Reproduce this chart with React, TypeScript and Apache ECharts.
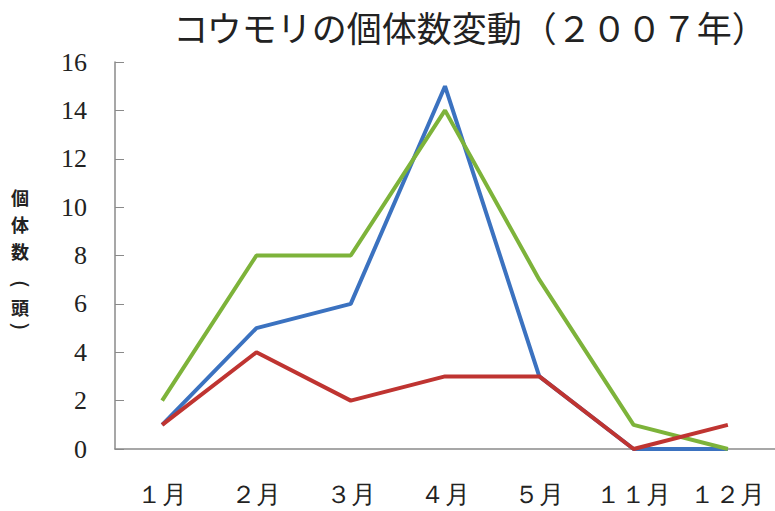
import React, { useEffect, useRef } from "react";
import * as echarts from "echarts";

const categories = ["１月", "２月", "３月", "４月", "５月", "１１月", "１２月"];
const blueValues = [1, 5, 6, 15, 3, 0, 0];
const greenValues = [2, 8, 8, 14, 7, 1, 0];
const redValues = [1, 4, 2, 3, 3, 0, 1];
const titleText = "コウモリの個体数変動（２００７年）";
const yNameChars = ["個", "体", "数", "(", "頭", ")"];

export default function App() {
  const ref = useRef<HTMLDivElement>(null);
  useEffect(() => {
    if (!ref.current) return;
    const chart = echarts.init(ref.current, undefined, { renderer: "svg" });
    const serif = "'Liberation Serif', 'DejaVu Serif', serif";
    const cjk = "'Noto Sans CJK JP', sans-serif";
    const mkLine = (name: string, data: number[], color: string) => ({
      name,
      type: "line",
      data,
      symbol: "none",
      lineStyle: { color, width: 4 },
      itemStyle: { color },
    });
    const charY = [197, 224, 251, 284, 307, 326];
    const yNameGraphics = yNameChars.map((ch, i) => {
      const isParen = ch === "(" || ch === ")";
      return {
        type: "text",
        x: 20,
        y: charY[i],
        rotation: isParen ? -Math.PI / 2 : 0,
        style: {
          text: ch,
          fontFamily: isParen ? "'DejaVu Sans', sans-serif" : cjk,
          fontSize: isParen ? 22 : 18,
          fontWeight: isParen ? "normal" : "bold",
          fill: "#222",
          align: "center",
          verticalAlign: "middle",
        },
      };
    });
    chart.setOption({
      animation: false,
      backgroundColor: "#ffffff",
      title: {
        text: titleText,
        left: 465,
        textAlign: "center",
        top: 4,
        textStyle: { fontFamily: cjk, fontSize: 35, fontWeight: "normal", color: "#222" },
      },
      graphic: yNameGraphics,
      grid: { left: 115, right: 0, top: 62, bottom: 62 },
      xAxis: {
        type: "category",
        data: categories,
        boundaryGap: true,
        axisLine: { lineStyle: { color: "#8a8a8a", width: 1.5 } },
        axisTick: { inside: true, length: 8, lineStyle: { color: "#8a8a8a" } },
        axisLabel: {
          interval: 0,
          fontFamily: serif,
          fontSize: 25,
          color: "#222",
          margin: 33,
        },
      },
      yAxis: {
        type: "value",
        min: 0,
        max: 16,
        interval: 2,
        splitLine: { show: false },
        axisLine: { show: true, lineStyle: { color: "#8a8a8a", width: 1.5 } },
        axisTick: { show: true, inside: true, length: 9, lineStyle: { color: "#8a8a8a" } },
        axisLabel: {
          fontFamily: serif,
          fontSize: 26,
          color: "#222",
          margin: 28,
        },
      },
      series: [
        mkLine("青", blueValues, "#3b72c0"),
        mkLine("緑", greenValues, "#7db33a"),
        mkLine("赤", redValues, "#bf3431"),
      ],
    });
    return () => chart.dispose();
  }, []);
  return (
    <div
      ref={ref}
      style={{ position: "fixed", left: 0, top: 0, width: 775, height: 511, background: "#fff" }}
    />
  );
}
